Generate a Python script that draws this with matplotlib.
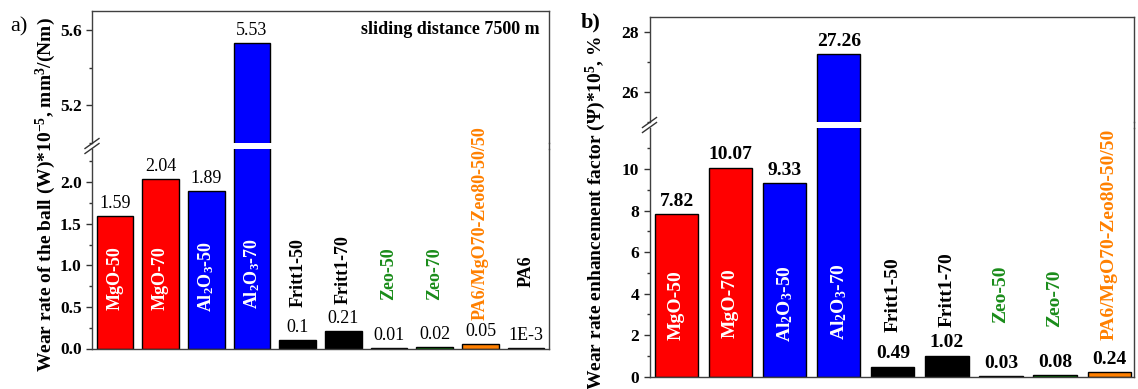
import matplotlib
matplotlib.use("Agg")
import matplotlib.pyplot as plt
from matplotlib.lines import Line2D
from matplotlib.ticker import MultipleLocator

plt.rcParams['font.family'] = ['Liberation Serif', 'DejaVu Serif']
plt.rcParams['font.weight'] = 'bold'
plt.rcParams['mathtext.fontset'] = 'custom'
plt.rcParams['mathtext.rm'] = 'Liberation Serif'
plt.rcParams['mathtext.default'] = 'regular'

## data ##
samples = ['MgO-50', 'MgO-70', 'Al$_2$O$_3$-50', 'Al$_2$O$_3$-70', 'Fritt1-50', 'Fritt1-70',
           'Zeo-50', 'Zeo-70', 'PA6/MgO70-Zeo80-50/50', 'PA6']
wear_rate = [1.59, 2.04, 1.89, 5.53, 0.1, 0.21, 0.01, 0.02, 0.05, 0.001]
enhancement = [7.82, 10.07, 9.33, 27.26, 0.49, 1.02, 0.03, 0.08, 0.24]

bar_colors = ['#ff0000', '#ff0000', '#0000ff', '#0000ff', 'black', 'black',
              '#008000', '#008000', '#ff8000', 'black']
text_colors = ['white', 'white', 'white', 'white', 'black', 'black',
               '#1a8c1a', '#1a8c1a', '#ff8000', 'black']

# where the rotated sample names start (data units of the lower part)
name_y_a = [0.46, 0.46, 0.44, 0.48, 0.50, 0.53, 0.58, 0.58, 0.34, 0.74]
name_y_b = [1.77, 1.85, 1.69, 1.77, 2.17, 2.41, 2.57, 2.41, 1.77]

W, H = 1138, 389
fig = plt.figure(figsize=(W / 100, H / 100), dpi=100)


def px(x, y):
    return x / W, 1 - y / H


def broken_panel(left, right, top, gap_top, gap_bot, bottom, values, names_y,
                 low_lim, up_lim, low_major, low_minor, up_major, up_minor,
                 xmax, val_fmt, val_weight, fs):
    n = len(values)
    x0, _ = px(left, 0)
    w = (right - left) / W
    ax_up = fig.add_axes([x0, 1 - gap_top / H, w, (gap_top - top) / H])
    ax_lo = fig.add_axes([x0, 1 - bottom / H, w, (bottom - gap_bot) / H])
    for ax, lim, maj, mnr in ((ax_up, up_lim, up_major, up_minor),
                              (ax_lo, low_lim, low_major, low_minor)):
        ax.bar(range(n), values, width=0.8, color=bar_colors[:n],
               edgecolor='black', linewidth=1)
        ax.set_xlim(-0.5, xmax)
        ax.set_ylim(*lim)
        ax.yaxis.set_major_locator(MultipleLocator(maj))
        ax.yaxis.set_minor_locator(MultipleLocator(mnr))
        ax.tick_params(axis='y', which='major', length=4, width=1, labelsize=12.5, color='#333333')
        ax.tick_params(axis='y', which='minor', length=2.5, width=1, color='#333333')
        ax.set_xticks([])
        ax.patch.set_visible(False)
        for s in ax.spines.values():
            s.set_color('#404040')
            s.set_linewidth(1)
    ax_up.spines['bottom'].set_visible(False)
    ax_lo.spines['top'].set_visible(False)

    for i, v in enumerate(values):
        ax = ax_up if v > up_lim[0] else ax_lo
        ax.annotate(val_fmt(v), (i, v), xytext=(0, 3), textcoords='offset points',
                    ha='center', va='bottom', fontsize=fs, fontweight=val_weight)
        ax_lo.text(i, names_y[i], samples[i], rotation=90, ha='center', va='bottom',
                   fontsize=fs, color=text_colors[i], clip_on=False, zorder=5)

    # right spine across the break
    fig.add_artist(Line2D([right / W, right / W], [1 - gap_top / H, 1 - gap_bot / H],
                          color='#404040', lw=1))
    # break marks on the left spine
    yc = (gap_top + gap_bot) / 2
    for dy in (-2.5, 2.5):
        xa, ya = px(left - 7, yc + dy + 5)
        xb, yb = px(left + 7, yc + dy - 5)
        fig.add_artist(Line2D([xa, xb], [ya, yb], color='#333333', lw=1))
    return ax_up, ax_lo


def fmt_a(v):
    return f"{v:g}" if v >= 0.01 else f"{v:.0E}".replace("E-0", "E-")


ax_up_a, ax_lo_a = broken_panel(92, 549, 11, 143, 149, 348.5, wear_rate, name_y_a,
                                (0, 2.4), (5.0, 5.7), 0.5, 0.25, 0.4, 0.2,
                                9.5, fmt_a, 'normal', 13)
ax_up_b, ax_lo_b = broken_panel(649.5, 1133.5, 17, 122, 128, 376.7, enhancement, name_y_b,
                                (0, 11.98), (25, 28.5), 2, 1, 2, 1,
                                8.45, lambda v: f"{v:.2f}", 'bold', 14)

ax_up_a.text(0.98, 0.86, 'sliding distance 7500 m', transform=ax_up_a.transAxes,
             ha='right', va='center', fontsize=13)

fig.text(*px(46, 195), 'Wear rate of the ball (W)*10$^{-5}$, mm$^3$/(Nm)', rotation=90,
         ha='center', va='center', fontsize=14)
fig.text(*px(596, 213), 'Wear rate enhancement factor (\u03a8)*10$^5$, %', rotation=90,
         ha='center', va='center', fontsize=14)

fig.text(*px(19, 27), 'a)', ha='center', va='center', fontsize=16, fontweight='normal')
fig.text(*px(591, 22), 'b)', ha='center', va='center', fontsize=16)

fig.savefig('out.png', dpi=100)
